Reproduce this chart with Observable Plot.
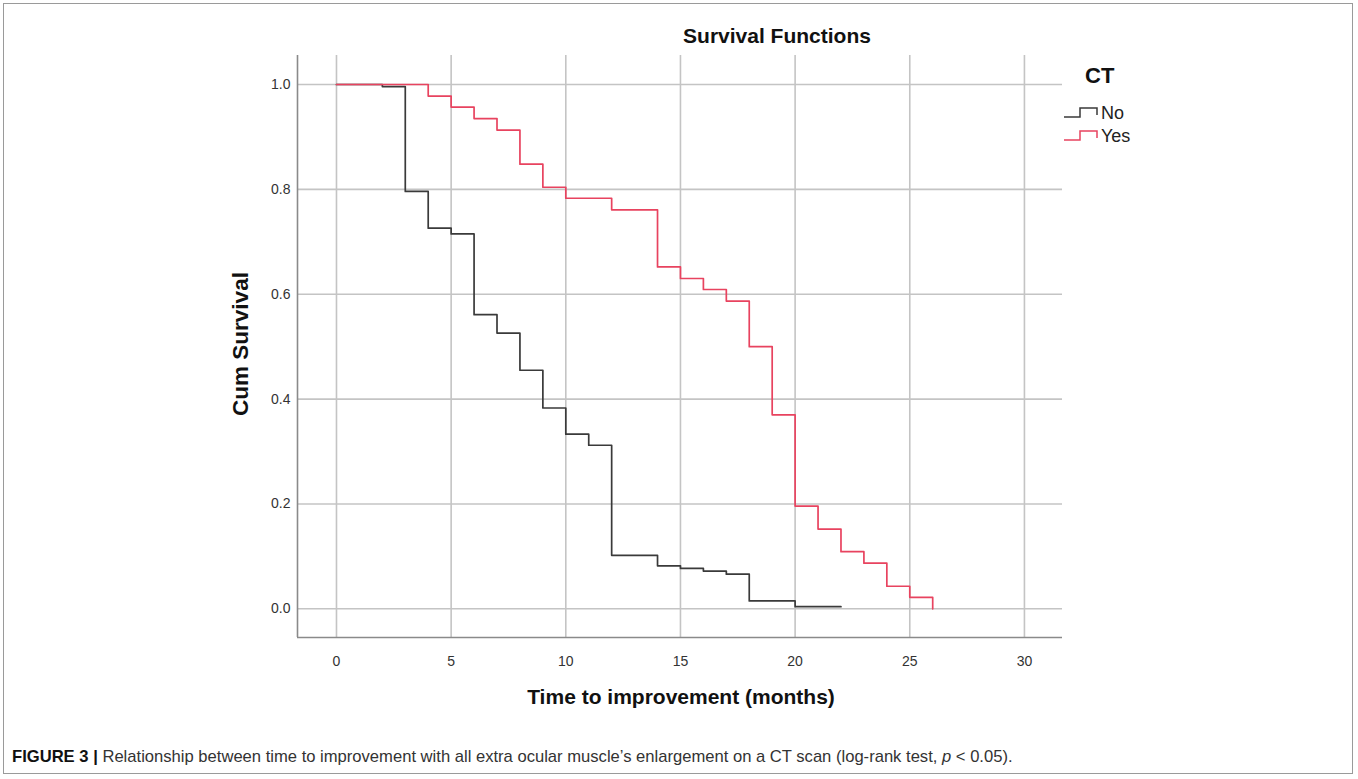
<!DOCTYPE html>
<html>
<head>
<meta charset="utf-8">
<script src="https://cdn.jsdelivr.net/npm/d3@7"></script>
<script src="https://cdn.jsdelivr.net/npm/@observablehq/plot@0.6"></script>
<style>
  html, body { margin: 0; padding: 0; background: #fff; }
  body { width: 1358px; height: 779px; position: relative; overflow: hidden; font-family: "Liberation Sans", Arial, sans-serif; }
  #frame { position: absolute; left: 3px; top: 3px; width: 1350px; height: 771px; border: 1px solid #9a9a9a; box-sizing: border-box; }
  #chart { position: absolute; left: 0; top: 0; }
  .txt { position: absolute; white-space: nowrap; color: #111; }
  #title { left: 0; width: 1554px; top: 24px; font-weight: bold; font-size: 21px; text-align: center; }
  #xlabel { left: 0; width: 1362px; top: 685px; font-weight: bold; font-size: 21px; text-align: center; }
  #ylabel { left: 241px; top: 344px; font-weight: bold; font-size: 22.5px; transform: translate(-50%, -50%) rotate(-90deg); }
  #legtitle { left: 1085px; top: 63px; font-weight: bold; font-size: 22px; }
  .legitem { position: absolute; left: 1062px; height: 22px; }
  .legitem svg { position: absolute; left: 0; top: 0; }
  .legitem span { position: absolute; left: 39px; top: 0; font-size: 18px; color: #222; }
  #caption { left: 12px; top: 747px; font-size: 16.6px; color: #333; }
  #caption b { color: #111; }
</style>
</head>
<body>
<div id="frame"></div>
<div id="chart"></div>
<div class="txt" id="title">Survival Functions</div>
<div class="txt" id="xlabel">Time to improvement (months)</div>
<div class="txt" id="ylabel">Cum Survival</div>
<div class="txt" id="legtitle">CT</div>
<div class="legitem" id="leg0" style="top:103px"></div>
<div class="legitem" id="leg1" style="top:126px"></div>
<div class="txt" id="caption"><b>FIGURE 3 |</b> Relationship between time to improvement with all extra ocular muscle’s enlargement on a CT scan (log-rank test, <i>p</i> &lt; 0.05).</div>
<script>
// ---- data ----
const groups = ["No", "Yes"];
const groupColors = ["#3a3a3a", "#e8435f"];

const noTime = [0, 2, 3, 4, 5, 6, 7, 8, 9, 10, 11, 12, 14, 15, 16, 17, 18, 20, 22];
const noSurv = [1.0, 0.996, 0.796, 0.726, 0.715, 0.561, 0.526, 0.455, 0.383, 0.333, 0.312, 0.102, 0.082, 0.077, 0.072, 0.066, 0.015, 0.004, 0.004];

const yesTime = [0, 4, 5, 6, 7, 8, 9, 10, 12, 14, 15, 16, 17, 18, 19, 20, 21, 22, 23, 24, 25, 26];
const yesSurv = [1.0, 0.978, 0.957, 0.935, 0.913, 0.848, 0.804, 0.783, 0.761, 0.652, 0.630, 0.609, 0.587, 0.500, 0.370, 0.196, 0.152, 0.109, 0.087, 0.043, 0.022, 0.0];

const xTicks = [0, 5, 10, 15, 20, 25, 30];
const yTicks = [0.0, 0.2, 0.4, 0.6, 0.8, 1.0];

const xDomain = [-1.7, 31.66];
const yDomain = [-0.0547, 1.0553];

// ---- build tables ----
const noData = noTime.map((t, i) => ({time: t, surv: noSurv[i], group: "No"}));
const yesData = yesTime.map((t, i) => ({time: t, surv: yesSurv[i], group: "Yes"}));

const chart = Plot.plot({
  width: 1358,
  height: 720,
  marginLeft: 297,
  marginRight: 296,
  marginTop: 55,
  marginBottom: 83,
  style: { background: "transparent", fontFamily: "'Liberation Sans', Arial, sans-serif", fontSize: "14px", color: "#333" },
  x: { domain: xDomain, ticks: xTicks, tickSize: 0, tickPadding: 19, tickFormat: d => String(d), label: null },
  y: { domain: yDomain, ticks: yTicks, tickSize: 0, tickPadding: 7, tickFormat: d => d.toFixed(1), label: null },
  marks: [
    Plot.ruleX(xTicks, { stroke: "#c4c4c4", strokeWidth: 1.6 }),
    Plot.ruleY(yTicks, { stroke: "#c4c4c4", strokeWidth: 1.6 }),
    Plot.ruleX([xDomain[0]], { stroke: "#8a8a8a", strokeWidth: 1.6 }),
    Plot.ruleY([yDomain[0]], { stroke: "#8a8a8a", strokeWidth: 1.6 }),
    Plot.line(noData, { x: "time", y: "surv", curve: "step-after", stroke: groupColors[0], strokeWidth: 1.7 }),
    Plot.line(yesData, { x: "time", y: "surv", curve: "step-after", stroke: groupColors[1], strokeWidth: 1.7 })
  ]
});
document.getElementById("chart").appendChild(chart);

// ---- legend ----
groups.forEach((g, i) => {
  const el = document.getElementById("leg" + i);
  el.innerHTML = `<svg width="38" height="22"><path d="M2,14 H18 V5 H35 V12" fill="none" stroke="${groupColors[i]}" stroke-width="1.5"/></svg><span>${g}</span>`;
});
</script>
</body>
</html>
